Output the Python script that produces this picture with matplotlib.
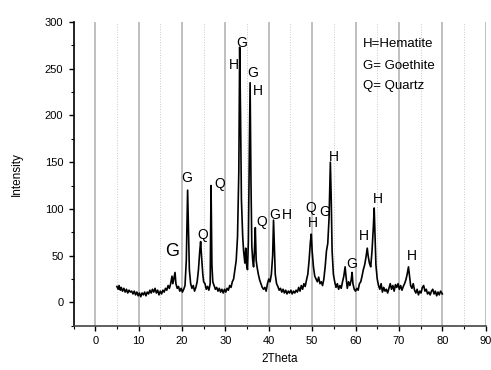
import matplotlib
matplotlib.use('Agg')
import matplotlib.pyplot as plt
from matplotlib.ticker import MultipleLocator

plt.rcParams['font.family'] = ['Liberation Sans', 'DejaVu Sans']

# Difratograma (2theta, intensidade)
two_theta = [5.0, 5.3, 5.5, 5.8, 6.0, 6.3, 6.6, 6.9, 7.2, 7.5, 7.8, 8.1, 8.4, 8.7, 9.0, 9.3, 9.6, 9.9,
             10.2, 10.5, 10.8, 11.1, 11.4, 11.7, 12.0, 12.3, 12.6, 12.9, 13.2, 13.5, 13.8, 14.1, 14.4, 14.7,
             15.0, 15.3, 15.6, 15.9, 16.2, 16.5, 16.8, 17.1, 17.4, 17.7, 17.9, 18.2, 18.4, 18.6, 18.9, 19.2,
             19.5, 19.8, 20.1, 20.4, 20.7, 21.0, 21.3, 21.5, 21.7, 22.0, 22.3, 22.6, 22.9, 23.2, 23.5, 23.8,
             24.1, 24.3, 24.5, 24.8, 25.0, 25.3, 25.6, 25.9, 26.2, 26.5, 26.7, 26.9, 27.1, 27.4, 27.7, 28.0,
             28.3, 28.6, 28.9, 29.2, 29.5, 29.8, 30.1, 30.4, 30.7, 31.0, 31.3, 31.6, 31.9, 32.2, 32.5, 32.8,
             33.1, 33.3, 33.5, 33.7, 34.0, 34.2, 34.5, 34.7, 34.9, 35.1, 35.3, 35.5, 35.7, 35.9, 36.1, 36.3,
             36.5, 36.7, 36.9, 37.1, 37.3, 37.6, 37.9, 38.2, 38.5, 38.8, 39.1, 39.4, 39.7, 40.0, 40.3, 40.6,
             40.9, 41.1, 41.3, 41.5, 41.8, 42.1, 42.4, 42.7, 43.0, 43.3, 43.6, 43.9, 44.2, 44.5, 44.8, 45.1,
             45.4, 45.7, 46.0, 46.3, 46.6, 46.9, 47.2, 47.5, 47.8, 48.1, 48.4, 48.7, 49.0, 49.3, 49.6, 49.8,
             50.0, 50.3, 50.6, 50.9, 51.2, 51.5, 51.8, 52.1, 52.4, 52.7, 53.0, 53.3, 53.6, 53.9, 54.2, 54.4,
             54.6, 54.9, 55.2, 55.5, 55.8, 56.1, 56.4, 56.7, 57.0, 57.3, 57.6, 57.8, 58.1, 58.4, 58.7, 59.0,
             59.2, 59.4, 59.7, 60.0, 60.3, 60.6, 60.9, 61.2, 61.5, 61.8, 62.1, 62.4, 62.7, 62.9, 63.2, 63.5,
             63.8, 64.1, 64.3, 64.5, 64.7, 65.0, 65.3, 65.6, 65.9, 66.2, 66.5, 66.8, 67.1, 67.4, 67.7, 68.0,
             68.3, 68.6, 68.9, 69.2, 69.5, 69.8, 70.1, 70.4, 70.7, 71.0, 71.3, 71.6, 71.9, 72.2, 72.4, 72.7,
             73.0, 73.3, 73.6, 73.9, 74.2, 74.5, 74.8, 75.1, 75.4, 75.7, 76.0, 76.3, 76.6, 76.9, 77.2, 77.5,
             77.8, 78.1, 78.4, 78.7, 79.0, 79.3, 79.6, 80.0]
intensity = [17, 14, 18, 13, 16, 12, 15, 11, 14, 10, 13, 11, 12, 9, 12, 8, 11, 7,
             10, 6, 10, 8, 11, 7, 11, 9, 13, 10, 14, 11, 15, 10, 13, 8,
             12, 9, 13, 11, 15, 13, 18, 15, 20, 28, 20, 27, 32, 20, 15, 17,
             12, 15, 11, 14, 18, 45, 120, 80, 35, 20, 15, 18, 12, 16, 22, 35,
             55, 65, 50, 30, 22, 20, 14, 17, 13, 20, 125, 40, 22, 18, 14, 16,
             12, 15, 11, 14, 10, 14, 11, 15, 13, 18, 16, 22, 25, 35, 45, 70,
             140, 273, 200, 110, 70, 55, 42, 58, 40, 35, 65, 150, 235, 130, 60, 45,
             38, 55, 80, 45, 38, 30, 24, 20, 16, 14, 16, 12, 20, 25, 22, 30,
             50, 88, 60, 30, 20, 17, 13, 15, 11, 14, 10, 13, 9, 12, 10, 13,
             9, 12, 10, 13, 11, 16, 12, 18, 14, 20, 17, 24, 30, 45, 65, 73,
             55, 38, 28, 25, 22, 27, 20, 22, 18, 25, 38, 55, 63, 90, 150, 110,
             55, 30, 22, 16, 20, 14, 18, 15, 22, 28, 38, 28, 15, 22, 18, 24,
             32, 20, 14, 12, 15, 13, 20, 22, 28, 35, 40, 48, 58, 50, 42, 38,
             55, 80, 101, 70, 40, 25, 18, 14, 20, 11, 16, 12, 14, 10, 15, 20,
             14, 18, 12, 19, 16, 20, 14, 18, 13, 17, 20, 24, 30, 38, 30, 18,
             15, 20, 13, 10, 14, 8, 12, 10, 16, 18, 12, 14, 9, 11, 8, 12,
             14, 9, 12, 7, 11, 8, 12, 9]

# Rótulos das fases: texto, posição x, posição y
rotulos = ['G', 'G', 'Q', 'Q', 'H', 'G', 'G', 'H', 'Q', 'G', 'H',
           'Q', 'H', 'G', 'H', 'G', 'H', 'H', 'H']
rotulos_x = [17.8, 21.2, 24.8, 28.8, 31.9, 33.7, 36.3, 37.5, 38.5, 41.3, 44.1,
             49.7, 50.2, 53.0, 54.9, 59.2, 61.9, 65.2, 73.1]
rotulos_y = [54, 133, 72, 127, 254, 278, 245, 226, 86, 94, 94,
             101, 85, 97, 156, 41, 71, 111, 50]

legenda = ['H=Hematite', 'G= Goethite', 'Q= Quartz']
legenda_y = [277, 253, 232]

fig = plt.figure(figsize=(4.91, 3.70), dpi=100)
ax = fig.add_axes([0.1497, 0.1197, 0.8395, 0.8208])

ax.plot(two_theta, intensity, color='black', linewidth=1.2)

for txt, xx, yy in zip(rotulos, rotulos_x, rotulos_y):
    tam = 13 if (txt == 'G' and xx < 20) else 10
    ax.text(xx, yy, txt, fontsize=tam, ha='center', va='center')

for txt, yy in zip(legenda, legenda_y):
    ax.text(61.7, yy, txt, fontsize=9.5, ha='left', va='center')

ax.set_xlim(-5, 90)
ax.set_ylim(-25, 300)
ax.xaxis.set_major_locator(MultipleLocator(10))
ax.xaxis.set_minor_locator(MultipleLocator(5))
ax.yaxis.set_major_locator(MultipleLocator(50))
ax.yaxis.set_minor_locator(MultipleLocator(25))
ax.set_yticks([0, 50, 100, 150, 200, 250, 300])

ax.grid(True, which='major', axis='x', color='#b4b4b4', linewidth=1.2)
ax.grid(True, which='minor', axis='x', color='#c8c8c8', linewidth=0.7, linestyle=':')
ax.set_axisbelow(True)

ax.spines['top'].set_visible(False)
ax.spines['right'].set_visible(False)
ax.spines['left'].set_linewidth(1.2)
ax.spines['bottom'].set_linewidth(1.2)
ax.spines['bottom'].set_color('#444444')
ax.tick_params(which='major', length=3.8, width=1.0, labelsize=8, direction='out')
ax.tick_params(which='minor', length=2.2, width=0.8, direction='out')

ax.set_xlabel('2Theta', fontsize=8.5, labelpad=5)
ax.set_ylabel('Intensity', fontsize=8.5, labelpad=16)

fig.savefig('out.png', dpi=100)
